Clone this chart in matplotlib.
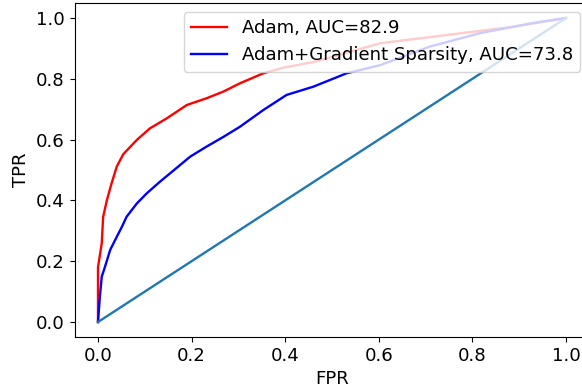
import matplotlib
matplotlib.use("Agg")
import matplotlib.pyplot as plt

# ROC points
adam_fpr = [0.0, 0.0, 0.0, 0.008, 0.011, 0.019, 0.029, 0.04, 0.054, 0.083, 0.111, 0.147,
            0.19, 0.232, 0.268, 0.303, 0.353, 0.40, 0.46, 0.50, 0.603, 0.745, 0.887, 1.0]
adam_tpr = [0.0, 0.06, 0.18, 0.259, 0.346, 0.401, 0.456, 0.511, 0.552, 0.599, 0.637, 0.67,
            0.714, 0.736, 0.758, 0.785, 0.818, 0.838, 0.855, 0.872, 0.917, 0.944, 0.971, 1.0]

sparse_fpr = [0.0, 0.004, 0.008, 0.015, 0.026, 0.04, 0.051, 0.061, 0.083, 0.104, 0.132,
              0.154, 0.197, 0.232, 0.268, 0.303, 0.353, 0.403, 0.46, 0.531, 0.603, 0.709,
              0.816, 0.923, 1.0]
sparse_tpr = [0.0, 0.083, 0.149, 0.182, 0.237, 0.28, 0.313, 0.346, 0.39, 0.423, 0.461,
              0.489, 0.544, 0.577, 0.609, 0.642, 0.697, 0.747, 0.774, 0.818, 0.845, 0.906,
              0.95, 0.982, 1.0]

chance = [0.0, 1.0]

labels = ["Adam, AUC=82.9", "Adam+Gradient Sparsity, AUC=73.8"]

plt.rcParams["font.size"] = 13.1

fig = plt.figure(figsize=(5.82, 3.9), dpi=100)
ax = fig.add_axes([74.6 / 582, (390 - 337.2) / 390, (589.4 - 74.6) / 582, (337.2 - 2.8) / 390])

ax.plot(adam_fpr, adam_tpr, color="red", lw=1.7, label=labels[0])
ax.plot(sparse_fpr, sparse_tpr, color="blue", lw=1.7, label=labels[1])
ax.plot(chance, chance, lw=1.7)

ax.set_xlabel("FPR")
ax.set_ylabel("TPR")
ax.legend(loc="upper right")

fig.savefig("out.png", dpi=100)
